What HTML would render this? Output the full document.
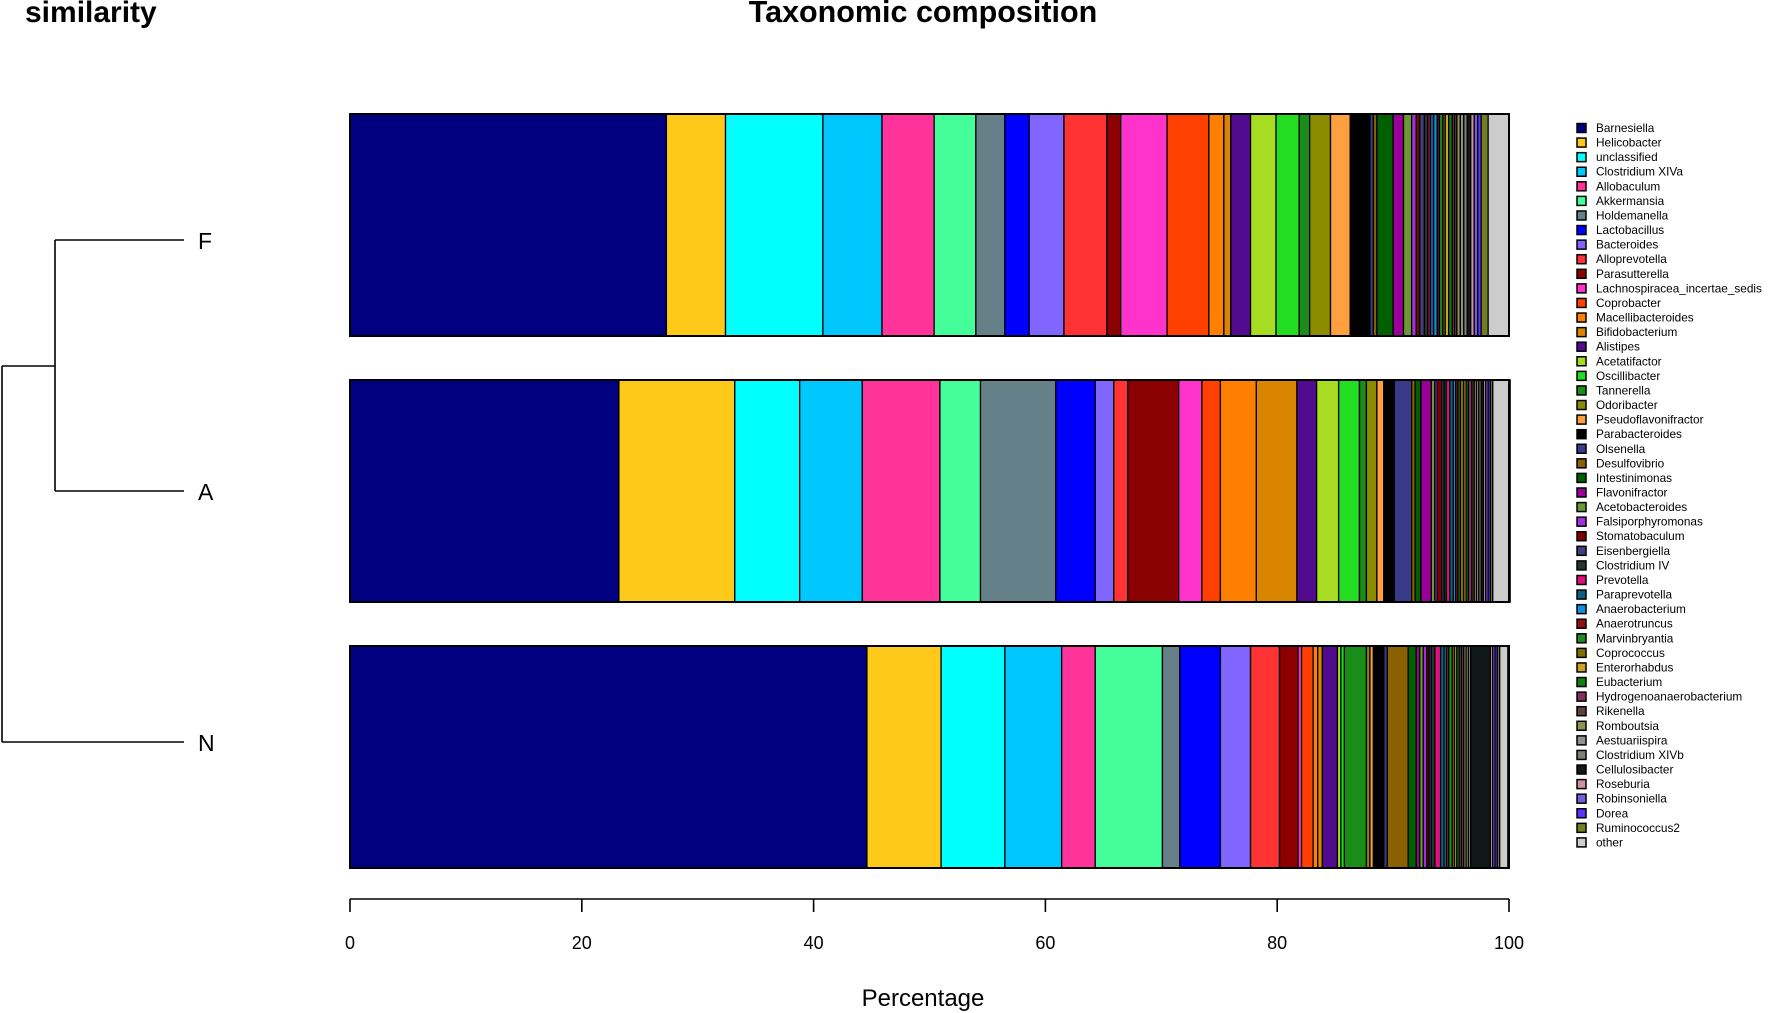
<!DOCTYPE html>
<html><head><meta charset="utf-8"><style>
html,body{margin:0;padding:0;background:#fff;}
svg{display:block;font-family:"Liberation Sans",Arial,sans-serif;}
</style></head><body>
<svg id="chart" width="1772" height="1013" viewBox="0 0 1772 1013" xmlns="http://www.w3.org/2000/svg">
<text x="25" y="22" font-size="30" font-weight="bold">similarity</text>
<text x="923" y="22" font-size="30.5" font-weight="bold" text-anchor="middle">Taxonomic composition</text>
<g id="dendro" stroke="#000" stroke-width="1.6" fill="none">
<path d="M55 240 H184 M55 491 H184 M55 240 V491 M2 366 H55 M2 366 V742 M2 742 H184"/>
</g>
<text x="198" y="249" font-size="23">F</text>
<text x="198" y="500" font-size="23">A</text>
<text x="198" y="751" font-size="23">N</text>
<g id="bars"></g>
<g id="axis"></g>
<g id="legend"></g>
<text x="923" y="1006" font-size="24" text-anchor="middle">Percentage</text>
</svg>
<script>
const taxa = ["Barnesiella","Helicobacter","unclassified","Clostridium XIVa","Allobaculum","Akkermansia","Holdemanella","Lactobacillus","Bacteroides","Alloprevotella","Parasutterella","Lachnospiracea_incertae_sedis","Coprobacter","Macellibacteroides","Bifidobacterium","Alistipes","Acetatifactor","Oscillibacter","Tannerella","Odoribacter","Pseudoflavonifractor","Parabacteroides","Olsenella","Desulfovibrio","Intestinimonas","Flavonifractor","Acetobacteroides","Falsiporphyromonas","Stomatobaculum","Eisenbergiella","Clostridium IV","Prevotella","Paraprevotella","Anaerobacterium","Anaerotruncus","Marvinbryantia","Coprococcus","Enterorhabdus","Eubacterium","Hydrogenoanaerobacterium","Rikenella","Romboutsia","Aestuariispira","Clostridium XIVb","Cellulosibacter","Roseburia","Robinsoniella","Dorea","Ruminococcus2","other"];
const samples = ["F","A","N"];
const valuesF = [27.3,5.1,8.4,5.1,4.5,3.6,2.5,2.1,3.0,3.7,1.2,4.0,3.6,1.3,0.6,1.7,2.2,2.0,0.9,1.8,1.7,1.7,0.3,0.3,1.4,0.9,0.7,0.4,0.3,0.4,0.3,0.2,0.3,0.3,0.2,0.3,0.2,0.3,0.3,0.2,0.2,0.3,0.3,0.3,0.3,0.3,0.3,0.3,0.6,1.8];
const valuesA = [23.2,10.0,5.6,5.4,6.7,3.5,6.5,3.4,1.6,1.2,4.4,2.0,1.6,3.1,3.5,1.7,1.9,1.8,0.6,0.9,0.6,0.9,1.5,0.3,0.5,0.9,0.3,0.2,0.4,0.2,0.2,0.3,0.3,0.2,0.2,0.2,0.3,0.2,0.2,0.3,0.2,0.2,0.2,0.2,0.2,0.2,0.2,0.2,0.2,1.5];
const valuesN = [44.6,6.4,5.5,4.9,2.9,5.8,1.5,3.5,2.6,2.5,1.6,0.3,1.0,0.4,0.4,1.3,0.3,0.3,1.9,0.3,0.3,0.9,0.3,1.8,0.7,0.3,0.3,0.3,0.2,0.2,0.3,0.5,0.3,0.2,0.2,0.3,0.2,0.2,0.2,0.2,0.2,0.2,0.2,0.2,1.7,0.2,0.2,0.2,0.2,0.7];
const ticks = [0,20,40,60,80,100];
const colors = ["#000080","#FFC91A","#00FFFF","#00C8FF","#FF3399","#44FF99","#66808A","#0000FF","#8066FF","#FF3333","#8B0000","#FF33CC","#FF4000","#FF8000","#D98500","#520A8F","#A6DD22","#22DD22","#1A8C1A","#8C8C00","#FFA040","#000000","#3A3A8A","#8A6000","#006000","#990099","#6A9A30","#A030E0","#800000","#404080","#203830","#E0107A","#106080","#1090E0","#901010","#228822","#807000","#D0A020","#108010","#803060","#604040","#909050","#909090","#808070","#101818","#D090A0","#7060E0","#6030FF","#708020","#CCCCCC"];
const NS="http://www.w3.org/2000/svg";
const x0=350,x1=1509;
function xs(v){return x0+(x1-x0)*v/100;}
const barTop=[114,380,646], barH=222;
const series=[valuesF,valuesA,valuesN];
const gb=document.getElementById('bars');
series.forEach((vals,si)=>{
  let cum=0;
  vals.forEach((v,i)=>{
    const r=document.createElementNS(NS,'rect');
    
    
    r.setAttribute('x',xs(cum));r.setAttribute('width',Math.max(0,xs(cum+v)-xs(cum)));
    r.setAttribute('y',barTop[si]);r.setAttribute('height',barH);
    r.setAttribute('fill',colors[i]);r.setAttribute('stroke','#000');r.setAttribute('stroke-width','1.3');
    gb.appendChild(r);cum+=v;
  });
  const o=document.createElementNS(NS,'rect');
  
  
  o.setAttribute('x',x0);o.setAttribute('y',barTop[si]);o.setAttribute('width',x1-x0);o.setAttribute('height',barH);
  o.setAttribute('fill','none');o.setAttribute('stroke','#000');o.setAttribute('stroke-width','2');
  gb.appendChild(o);
});
const ga=document.getElementById('axis');
const al=document.createElementNS(NS,'line');


al.setAttribute('x1',xs(0));al.setAttribute('x2',xs(100));al.setAttribute('y1',899);al.setAttribute('y2',899);al.setAttribute('stroke','#000');al.setAttribute('stroke-width','1.6');
ga.appendChild(al);
ticks.forEach(t=>{
  const l=document.createElementNS(NS,'line');
  
  
  l.setAttribute('x1',xs(t));l.setAttribute('x2',xs(t));l.setAttribute('y1',899);l.setAttribute('y2',912);l.setAttribute('stroke','#000');l.setAttribute('stroke-width','1.6');
  ga.appendChild(l);
  const tx=document.createElementNS(NS,'text');
  
  
  tx.setAttribute('x',xs(t));tx.setAttribute('y',949);tx.setAttribute('font-size','18');tx.setAttribute('text-anchor','middle');
  tx.textContent=t;ga.appendChild(tx);
});
const gl=document.getElementById('legend');
taxa.forEach((name,i)=>{
  const y=128+i*14.58;
  const s=document.createElementNS(NS,'rect');
  
  
  s.setAttribute('x',1577);s.setAttribute('y',y-4.5);s.setAttribute('width',9);s.setAttribute('height',9);
  s.setAttribute('fill',colors[i]);s.setAttribute('stroke','#000');s.setAttribute('stroke-width','1.5');
  gl.appendChild(s);
  const t=document.createElementNS(NS,'text');
  
  
  t.setAttribute('x',1596);t.setAttribute('y',y+4);t.setAttribute('font-size','11.8');
  t.textContent=name;gl.appendChild(t);
});
</script>
</body></html>
